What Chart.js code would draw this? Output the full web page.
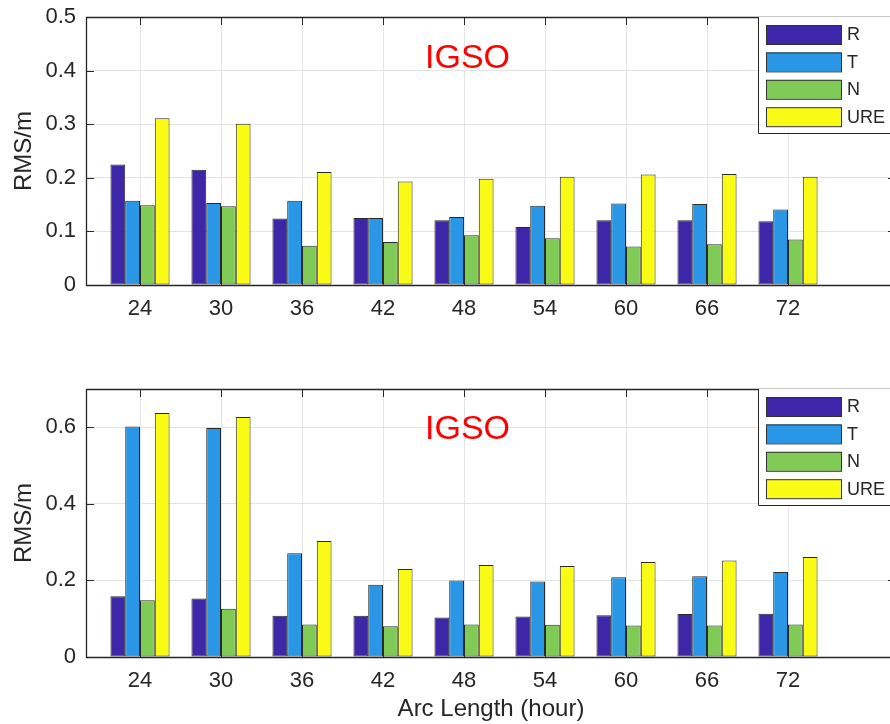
<!DOCTYPE html>
<html>
<head>
<meta charset="utf-8">
<script src="https://cdn.jsdelivr.net/npm/chart.js@4.4.1/dist/chart.umd.min.js"></script>
<style>
  html, body { margin: 0; padding: 0; background: #fff; overflow: hidden; width: 890px; height: 724px; }
  #wrap { position: relative; width: 890px; height: 724px; overflow: hidden; }
  .panel { position: absolute; left: 0; width: 910px; height: 362px; }
</style>
</head>
<body>
<div id="wrap">
  <div class="panel" style="top:0"><canvas id="upper" width="910" height="362"></canvas></div>
  <div class="panel" style="top:362px"><canvas id="lower" width="910" height="362"></canvas></div>
</div>
<script>
// Arc lengths (hours) on the x axis
const arcLengths = [24, 30, 36, 42, 48, 54, 60, 66, 72];
const seriesNames = ['R', 'T', 'N', 'URE'];

// Upper panel: RMS (m) per component
const upperR   = [0.225, 0.215, 0.124, 0.125, 0.121, 0.108, 0.121, 0.121, 0.119];
const upperT   = [0.157, 0.153, 0.157, 0.125, 0.127, 0.148, 0.152, 0.151, 0.141];
const upperN   = [0.149, 0.147, 0.073, 0.080, 0.093, 0.087, 0.072, 0.076, 0.085];
const upperURE = [0.311, 0.301, 0.211, 0.193, 0.198, 0.202, 0.206, 0.207, 0.202];
const upperTicks = [0, 0.1, 0.2, 0.3, 0.4, 0.5];

// Lower panel: RMS (m) per component
const lowerR   = [0.159, 0.153, 0.108, 0.108, 0.103, 0.106, 0.109, 0.112, 0.113];
const lowerT   = [0.602, 0.598, 0.271, 0.189, 0.200, 0.197, 0.208, 0.211, 0.222];
const lowerN   = [0.148, 0.126, 0.085, 0.080, 0.085, 0.084, 0.082, 0.082, 0.085];
const lowerURE = [0.637, 0.627, 0.303, 0.230, 0.240, 0.238, 0.248, 0.252, 0.261];
const lowerTicks = [0, 0.2, 0.4, 0.6];

const panelLabel = 'IGSO';
const xTitle = 'Arc Length (hour)';
const yTitle = 'RMS/m';

const seriesColors = ['#3e26a8', '#2a96e6', '#80ca56', '#f9fb15'];
const FONT = '"Liberation Sans", Arial, Helvetica, sans-serif';
const INK = '#262626';

function buildDatasets(columns) {
  return seriesNames.map((name, i) => ({
    label: name,
    data: arcLengths.map((x, j) => ({ x: x, y: columns[i][j] })),
    backgroundColor: seriesColors[i],
    borderColor: '#2a2a2a',
    borderWidth: 1,
    borderSkipped: false,
    categoryPercentage: 0.73,
    barPercentage: 1.0
  }));
}

// Axes box, inward ticks, in-axes label and legend box
const framePlugin = {
  id: 'frame',
  beforeDatasetsDraw(chart) {
    const { ctx, chartArea: a, scales } = chart;
    ctx.save();
    ctx.strokeStyle = INK;
    ctx.lineWidth = 1;
    const tl = 8;
    ctx.beginPath();
    scales.x.ticks.forEach(t => {
      const px = Math.round(scales.x.getPixelForValue(t.value)) + 0.5;
      ctx.moveTo(px, a.top); ctx.lineTo(px, a.top + tl);
      ctx.moveTo(px, a.bottom); ctx.lineTo(px, a.bottom - tl);
    });
    scales.y.ticks.forEach(t => {
      const py = Math.round(scales.y.getPixelForValue(t.value)) + 0.5;
      ctx.moveTo(a.left, py); ctx.lineTo(a.left + tl, py);
      ctx.moveTo(a.right, py); ctx.lineTo(a.right - tl, py);
    });
    ctx.stroke();
    ctx.restore();
  },
  afterDatasetsDraw(chart, args, opts) {
    const { ctx, chartArea: a } = chart;
    const L = Math.round(a.left) + 0.5, R = Math.round(a.right) + 0.5;
    const T = Math.round(a.top) + 0.5, B = Math.round(a.bottom) + 0.5;
    ctx.save();
    ctx.strokeStyle = INK;
    ctx.lineWidth = 1.3;
    ctx.beginPath();
    ctx.moveTo(R, T); ctx.lineTo(L, T); ctx.lineTo(L, B); ctx.lineTo(R, B); ctx.lineTo(R, T);
    ctx.stroke();

    // panel label
    ctx.fillStyle = '#ff0000';
    ctx.font = '34px ' + FONT;
    ctx.textAlign = 'left';
    ctx.textBaseline = 'middle';
    ctx.fillText(opts.label, a.left + 339, a.top + opts.labelDy);

    // legend
    const lx = a.left + 672, ly = a.top;
    const lh = 116;
    ctx.fillStyle = '#ffffff';
    ctx.fillRect(lx, ly, a.right - lx, lh);
    ctx.strokeStyle = INK;
    ctx.lineWidth = 1;
    ctx.beginPath();
    ctx.moveTo(lx + 0.5, ly); ctx.lineTo(lx + 0.5, ly + lh + 0.5); ctx.lineTo(a.right, ly + lh + 0.5);
    ctx.stroke();
    ctx.font = '18px ' + FONT;
    ctx.textBaseline = 'middle';
    chart.data.datasets.forEach((ds, i) => {
      const sy = ly + 8 + i * 27.4;
      ctx.fillStyle = ds.backgroundColor;
      ctx.fillRect(lx + 8, sy, 75, 19);
      ctx.strokeStyle = '#333';
      ctx.strokeRect(lx + 8.5, sy + 0.5, 75, 19);
      ctx.fillStyle = INK;
      ctx.fillText(ds.label, lx + 89, sy + 10.5);
    });
    ctx.restore();
  }
};

function makePanel(canvasId, columns, yMax, yTicks, opts) {
  return new Chart(document.getElementById(canvasId), {
    type: 'bar',
    data: { datasets: buildDatasets(columns) },
    plugins: [framePlugin],
    options: {
      responsive: false,
      animation: false,
      devicePixelRatio: 1,
      layout: { padding: { top: opts.top, right: 14, left: 0, bottom: 0 } },
      plugins: {
        legend: { display: false },
        tooltip: { enabled: false },
        frame: { label: panelLabel, labelDy: opts.labelDy }
      },
      scales: {
        x: {
          type: 'linear',
          min: 20,
          max: 80,
          offset: false,
          afterBuildTicks: s => { s.ticks = arcLengths.map(v => ({ value: v })); },
          afterFit: s => { s.height = opts.xHeight; },
          grid: { color: '#e3e3e3', lineWidth: 1, drawTicks: true, tickLength: 11,
                  tickColor: 'rgba(0,0,0,0)', offset: false },
          border: { display: false },
          ticks: { color: INK, font: { family: FONT, size: 22 }, padding: 0, maxRotation: 0,
                   callback: v => String(v) },
          title: { display: opts.showXTitle, text: xTitle, color: INK,
                   font: { family: FONT, size: 24 }, padding: { top: 0, bottom: 0 } }
        },
        y: {
          min: 0,
          max: yMax,
          afterBuildTicks: s => { s.ticks = yTicks.map(v => ({ value: v })); },
          afterFit: s => { s.width = 86; },
          grid: { color: '#e3e3e3', lineWidth: 1, drawTicks: true, tickLength: 10,
                  tickColor: 'rgba(0,0,0,0)' },
          border: { display: false },
          ticks: { color: INK, font: { family: FONT, size: 22 }, padding: 0,
                   callback: v => String(v) },
          title: { display: true, text: yTitle, color: INK,
                   font: { family: FONT, size: 24 }, padding: { top: 10, bottom: 0 } }
        }
      }
    }
  });
}

makePanel('upper', [upperR, upperT, upperN, upperURE], 0.5, upperTicks,
          { top: 17, xHeight: 77, showXTitle: false, labelDy: 42 });
makePanel('lower', [lowerR, lowerT, lowerN, lowerURE], 0.7, lowerTicks,
          { top: 27, xHeight: 67, showXTitle: true, labelDy: 41 });
</script>
</body>
</html>
